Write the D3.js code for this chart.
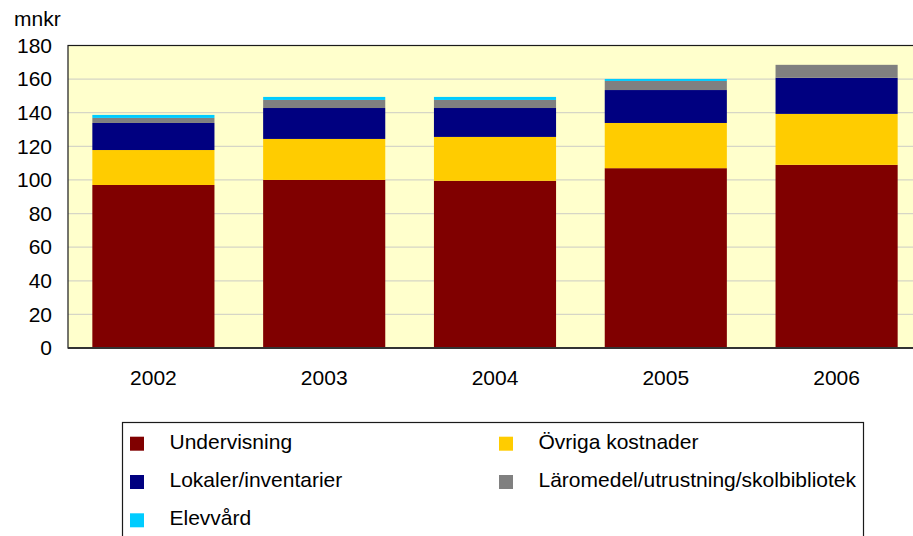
<!DOCTYPE html>
<html>
<head>
<meta charset="utf-8">
<script src="https://cdn.jsdelivr.net/npm/d3@7"></script>
<style>
  html, body { margin: 0; padding: 0; background: #ffffff; }
  svg { display: block; font-family: Arial, "Liberation Sans", sans-serif; }
</style>
</head>
<body>
<svg id="chart" width="913" height="536"></svg>
<script>
const years = ["2002", "2003", "2004", "2005", "2006"];
const seriesNames = ["Undervisning", "Övriga kostnader", "Lokaler/inventarier", "Läromedel/utrustning/skolbibliotek", "Elevvård"];
const undervisning = [97.0, 100.0, 99.5, 107.0, 109.0];
const ovriga = [20.8, 24.4, 26.1, 26.9, 30.3];
const lokaler = [16.1, 18.4, 17.2, 19.6, 21.5];
const laromedel = [3.0, 4.8, 4.8, 5.4, 7.7];
const elevvard = [1.8, 1.8, 1.8, 1.2, 0.0];
const yTicks = [0, 20, 40, 60, 80, 100, 120, 140, 160, 180];
const colors = ["#800000", "#FFCC00", "#000080", "#808080", "#00CCFF"];
const unitLabel = "mnkr";

const seriesValues = [undervisning, ovriga, lokaler, laromedel, elevvard];
const table = years.map((y, i) => {
  const row = { year: y };
  seriesNames.forEach((s, j) => row[s] = seriesValues[j][i]);
  return row;
});

const svg = d3.select("#chart");
const plot = { left: 68, right: 922, top: 45.5, bottom: 348 };

const x = d3.scaleBand().domain(years).range([plot.left, plot.right])
  .paddingInner(0.285).paddingOuter(0.1425);
const y = d3.scaleLinear().domain([0, 180]).range([plot.bottom, plot.top]);

// background
svg.append("rect")
  .attr("x", plot.left).attr("y", plot.top)
  .attr("width", plot.right - plot.left).attr("height", plot.bottom - plot.top)
  .attr("fill", "#FFFFCC");

// gridlines
svg.append("g").selectAll("line").data(yTicks.filter(t => t > 0 && t < 180)).join("line")
  .attr("x1", plot.left).attr("x2", plot.right)
  .attr("y1", d => y(d)).attr("y2", d => y(d))
  .attr("stroke", "#d6d6c6").attr("stroke-width", 1.2);

// stacked bars
const stack = d3.stack().keys(seriesNames)(table);
svg.append("g").selectAll("g").data(stack).join("g")
  .attr("fill", (d, i) => colors[i])
  .selectAll("rect").data(d => d).join("rect")
  .attr("x", d => x(d.data.year))
  .attr("width", x.bandwidth())
  .attr("y", d => y(d[1]))
  .attr("height", d => Math.max(0, y(d[0]) - y(d[1])));

// frame
svg.append("rect")
  .attr("x", plot.left).attr("y", plot.top)
  .attr("width", plot.right - plot.left).attr("height", plot.bottom - plot.top)
  .attr("fill", "none").attr("stroke", "#1a1a1a").attr("stroke-width", 1.2);
svg.append("line")
  .attr("x1", plot.left).attr("x2", plot.right)
  .attr("y1", plot.bottom).attr("y2", plot.bottom)
  .attr("stroke", "#333").attr("stroke-width", 1.8);

// y axis labels
const yAxis = d3.axisLeft(y).tickValues(yTicks).tickSize(0).tickPadding(16);
const yg = svg.append("g").attr("transform", `translate(${plot.left},0)`).call(yAxis);
yg.select(".domain").remove();
yg.selectAll("text").attr("font-size", 21).attr("font-family", "Arial, 'Liberation Sans', sans-serif").attr("fill", "#000");

// x axis labels
const xAxis = d3.axisBottom(x).tickSize(0).tickPadding(22);
const xg = svg.append("g").attr("transform", `translate(0,${plot.bottom})`).call(xAxis);
xg.select(".domain").remove();
xg.selectAll("text").attr("font-size", 21).attr("font-family", "Arial, 'Liberation Sans', sans-serif").attr("fill", "#000");

// unit label
svg.append("text").attr("x", 14).attr("y", 26).attr("font-size", 21).attr("fill", "#000").text(unitLabel);

// legend
svg.append("rect").attr("x", 122.5).attr("y", 422.5).attr("width", 741).attr("height", 130)
  .attr("fill", "#fff").attr("stroke", "#1a1a1a").attr("stroke-width", 1.2);
const legendPos = [
  { mx: 130, tx: 169.5, row: 0 },
  { mx: 499, tx: 538.5, row: 0 },
  { mx: 130, tx: 169.5, row: 1 },
  { mx: 499, tx: 538.5, row: 1 },
  { mx: 130, tx: 169.5, row: 2 }
];
const lg = svg.append("g").selectAll("g").data(seriesNames).join("g");
lg.append("rect")
  .attr("x", (d, i) => legendPos[i].mx)
  .attr("y", (d, i) => 436.7 + legendPos[i].row * 38.3)
  .attr("width", 14).attr("height", 14)
  .attr("fill", (d, i) => colors[i]);
lg.append("text")
  .attr("x", (d, i) => legendPos[i].tx)
  .attr("y", (d, i) => 448.5 + legendPos[i].row * 38.3)
  .attr("font-size", 21).attr("fill", "#000")
  .text(d => d);
</script>
</body>
</html>
